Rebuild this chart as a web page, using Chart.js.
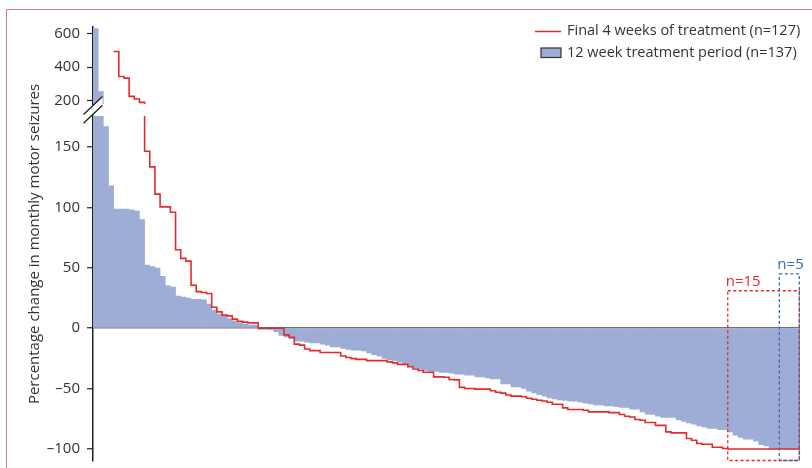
<!DOCTYPE html>
<html>
<head>
<meta charset="utf-8">
<script src="https://cdn.jsdelivr.net/npm/chart.js@4.4.1/dist/chart.umd.min.js"></script>
<style>
  html, body { margin: 0; padding: 0; background: #fff; }
  #wrap { position: relative; width: 812px; height: 468px; overflow: hidden; }
  #frame { position: absolute; left: 6px; top: 9px; right: -2px; bottom: -2px;
           border-left: 1.5px solid #d8778f; border-top: 1.5px solid #d8778f; }
  canvas { position: absolute; left: 0; top: 0; }
</style>
</head>
<body>
<div id="wrap">
  <div id="frame"></div>
  <canvas id="chart" width="812" height="468"></canvas>
</div>
<script>
// % change in monthly motor seizures, one bar per patient, sorted (12 week period)
const periodChange = [
  630, 255, 167, 118, 98.6, 98.6, 98.6, 98, 97, 90,
  52.2, 51, 49.7, 43, 35, 34, 26.5, 25.7, 24.9, 24,
  24, 23.5, 19.9, 14.9, 11.6, 10.2, 7.7, 6, 4.7, 3.3,
  2.5, 2.5, -1, -1, -1.2, -2.8, -6, -7.3, -8.8, -10.8,
  -10.8, -11.5, -12.3, -12.3, -13.2, -14, -15.5, -15.5, -16.8, -17.5,
  -18.3, -18.3, -18.9, -20.5, -22, -23, -25, -26, -26.8, -28.2,
  -29.5, -31.2, -32.6, -34, -35, -35.9, -35.9, -36.7, -36.7, -37.3,
  -38, -38, -38.9, -38.9, -40.3, -40.3, -41.2, -42, -42, -46.1,
  -46.1, -48.6, -48.6, -49.8, -52.2, -53.6, -55, -56.3, -57.7, -58.6,
  -59.4, -59.9, -60.5, -60.5, -61.3, -62.1, -62.7, -63.5, -63.5, -64.3,
  -64.3, -64.9, -65.7, -65.7, -67.1, -67.1, -69.3, -71.3, -71.5, -72.9,
  -74, -74, -74, -76, -77.3, -78.4, -79.5, -80.9, -82, -83.1,
  -83.1, -84, -84, -85.9, -88.6, -90.5, -92, -92, -93.6, -96.5,
  -97.5, -100, -100, -100, -100, -100, -100
];

// final 4 weeks of treatment, step line starting at bar slot 4
const finalStart = 4;
const finalChange = [
  494, 345, 335, 226, 210, 190, 146.6, 133.6, 111, 100.5,
  100.5, 96, 65, 57.8, 55.5, 35.6, 30.3, 29.5, 28.7, 17.3,
  13.5, 10.8, 10.2, 7.5, 5.8, 5, 4.4, 4.4, 0, 0,
  0, 0, 0, -5.5, -7.5, -13.2, -14, -17.3, -18.6, -18.6,
  -20.2, -20.2, -20.2, -20.2, -23, -24.3, -25.2, -25.8, -25.8, -26.9,
  -26.9, -26.9, -26.9, -27.9, -28.7, -30, -30, -32, -33.8, -35,
  -36.5, -36.5, -40.3, -40.3, -40.6, -42.5, -42.8, -49, -50, -50,
  -50.5, -50.5, -50.5, -51.8, -53, -53.8, -55.3, -56.3, -56.3, -56.8,
  -58, -58.9, -59.7, -60.3, -61.3, -63, -63, -66, -67.4, -67.4,
  -67.4, -68, -69.3, -69.3, -69.3, -69.3, -69.9, -69.9, -71.5, -72.9,
  -73.5, -75.6, -76.2, -78.1, -78.1, -80.5, -80.5, -85.9, -86.7, -86.7,
  -86.7, -91.4, -92.8, -95.5, -96.1, -96.1, -98.6, -98.6, -99.7, -100,
  -100, -100, -100, -100, -100, -100, -100, -100, -100, -100,
  -100, -100, -100
];

const lowerTicks = [-100, -50, 0, 50, 100, 150];
const upperTicks = [200, 400, 600];
const legendLabels = ['Final 4 weeks of treatment (n=127)', '12 week treatment period (n=137)'];
const yTitle = 'Percentage change in monthly motor seizures';

// dashed subgroup boxes (bar slots from..end, top value)
const groupLabels = ['n=15', 'n=5'];
const groupFrom = [123, 133];
const groupTop = [31, 45];

const BLUE = '#9eadd5';
const RED = '#e52a2a';
const DARK_BLUE = '#2f6fb3';
const FONT = "'Open Sans', sans-serif";

Chart.defaults.font.family = FONT;
Chart.defaults.color = '#333';

const nSlots = periodChange.length;
const barPoints = periodChange.map((v, i) => ({ x: i + 0.5, y: v }));
const linePoints = finalChange.map((v, i) => ({ x: finalStart + i, y: v }));
linePoints.push({ x: finalStart + finalChange.length, y: finalChange[finalChange.length - 1] });

const dashLabel = (v) => String(v).replace('-', '\u2013');

// each dataset only paints inside its own half of the broken axis
const clipToSection = {
  id: 'clipToSection',
  beforeDatasetDraw(chart, args) {
    const s = chart.scales[args.meta.yAxisID];
    const a = chart.chartArea;
    const ctx = chart.ctx;
    ctx.save();
    ctx.beginPath();
    ctx.rect(a.left, s.top, a.right - a.left + 1, s.bottom - s.top);
    ctx.clip();
  },
  afterDatasetDraw(chart) {
    chart.ctx.restore();
  }
};

const extras = {
  id: 'extras',
  afterDatasetsDraw(chart) {
    const ctx = chart.ctx;
    const a = chart.chartArea;
    const x = chart.scales.x;
    const yLow = chart.scales.yLow;
    const gap = chart.scales.yGap;

    // axis break marks
    const ax = a.left, up = gap.top + 1.5, low = gap.bottom - 1.5, dx = 9.5, k = 0.95;
    ctx.save();
    ctx.fillStyle = '#fff';
    ctx.beginPath();
    ctx.moveTo(ax - dx, up + dx * k);
    ctx.lineTo(ax + dx, up - dx * k);
    ctx.lineTo(ax + dx, low - dx * k);
    ctx.lineTo(ax - dx, low + dx * k);
    ctx.closePath();
    ctx.fill();
    ctx.strokeStyle = '#222';
    ctx.lineWidth = 1.3;
    ctx.beginPath();
    ctx.moveTo(ax - dx, up + dx * k); ctx.lineTo(ax + dx, up - dx * k);
    ctx.moveTo(ax - dx, low + dx * k); ctx.lineTo(ax + dx, low - dx * k);
    ctx.stroke();

    // subgroup boxes
    const colors = [RED, DARK_BLUE];
    ctx.lineWidth = 1.3;
    ctx.setLineDash([3, 2.5]);
    ctx.font = '15px ' + FONT;
    ctx.textAlign = 'left';
    ctx.textBaseline = 'alphabetic';
    groupLabels.forEach((label, i) => {
      const x1 = x.getPixelForValue(groupFrom[i]);
      const x2 = x.getPixelForValue(nSlots) - 0.7;
      const y1 = yLow.getPixelForValue(groupTop[i]);
      const y2 = yLow.bottom - 0.5;
      ctx.strokeStyle = colors[i];
      ctx.strokeRect(x1, y1, x2 - x1, y2 - y1);
      ctx.fillStyle = colors[i];
      ctx.fillText(label, x1 - 2, y1 - 5);
    });
    ctx.setLineDash([]);
    ctx.restore();
  },
  afterDraw(chart) {
    const ctx = chart.ctx;
    const a = chart.chartArea;
    ctx.save();
    // y title spanning both sections
    ctx.translate(35, (a.top + a.bottom) / 2);
    ctx.rotate(-Math.PI / 2);
    ctx.font = '15px ' + FONT;
    ctx.fillStyle = '#333';
    ctx.textAlign = 'center';
    ctx.textBaseline = 'middle';
    ctx.fillText(yTitle, 0, 0);
    ctx.restore();

    // legend
    const lx = a.right - 233;
    ctx.save();
    ctx.font = '14.5px ' + FONT;
    ctx.textBaseline = 'middle';
    ctx.textAlign = 'left';
    ctx.strokeStyle = RED;
    ctx.lineWidth = 1.5;
    ctx.beginPath();
    ctx.moveTo(lx - 32, 31.5);
    ctx.lineTo(lx - 6, 31.5);
    ctx.stroke();
    ctx.fillStyle = '#333';
    ctx.fillText(legendLabels[0], lx, 31);
    ctx.fillStyle = BLUE;
    ctx.fillRect(lx - 26, 48, 20, 9.5);
    ctx.strokeStyle = '#333';
    ctx.lineWidth = 1.2;
    ctx.strokeRect(lx - 26, 48, 20, 9.5);
    ctx.fillStyle = '#333';
    ctx.fillText(legendLabels[1], lx, 53);
    ctx.restore();
  }
};

const sideAxis = (ticks, extra) => Object.assign({
  type: 'linear',
  position: 'left',
  stack: 'y',
  afterBuildTicks: (s) => { s.ticks = ticks.map((v) => ({ value: v })); },
  afterFit: (s) => { s.width = 93; s.paddingTop = 0; s.paddingBottom = 0; },
  border: { color: '#222', width: 1.5 },
  ticks: { font: { size: 15 }, color: '#333', padding: 7, autoSkip: false, callback: dashLabel },
}, extra);

new Chart(document.getElementById('chart'), {
  type: 'bar',
  data: {
    datasets: [
      { type: 'line', data: linePoints, yAxisID: 'yLow', borderColor: RED, borderWidth: 1.6,
        pointRadius: 0, stepped: true, fill: false, order: 0 },
      { type: 'line', data: linePoints, yAxisID: 'yHigh', borderColor: RED, borderWidth: 1.6,
        pointRadius: 0, stepped: true, fill: false, order: 0 },
      { data: barPoints, yAxisID: 'yLow', backgroundColor: BLUE, borderWidth: 0, grouped: false,
        barPercentage: 1, categoryPercentage: 1, order: 1 },
      { data: barPoints, yAxisID: 'yHigh', backgroundColor: BLUE, borderWidth: 0, grouped: false,
        barPercentage: 1, categoryPercentage: 1, order: 1 },
    ]
  },
  options: {
    responsive: false,
    animation: false,
    layout: { padding: { left: 0, top: 27, right: 12, bottom: 7 } },
    plugins: { legend: { display: false }, tooltip: { enabled: false } },
    scales: {
      x: { type: 'linear', min: 0, max: nSlots, offset: false, display: false },
      yLow: sideAxis(lowerTicks, {
        min: -110, max: 176, stackWeight: 345,
        grid: {
          color: (c) => (c.tick && c.tick.value === 0 ? '#707070' : 'rgba(0,0,0,0)'),
          tickColor: '#222', tickLength: 6, lineWidth: 1.5, tickWidth: 1.2
        }
      }),
      yGap: { type: 'linear', position: 'left', stack: 'y', stackWeight: 11.6, display: false },
      yHigh: sideAxis(upperTicks, {
        min: 180, max: 640, stackWeight: 77,
        grid: { color: 'rgba(0,0,0,0)', tickColor: '#222', tickLength: 6, tickWidth: 1.2 }
      }),
    }
  },
  plugins: [clipToSection, extras]
});
</script>
</body>
</html>
